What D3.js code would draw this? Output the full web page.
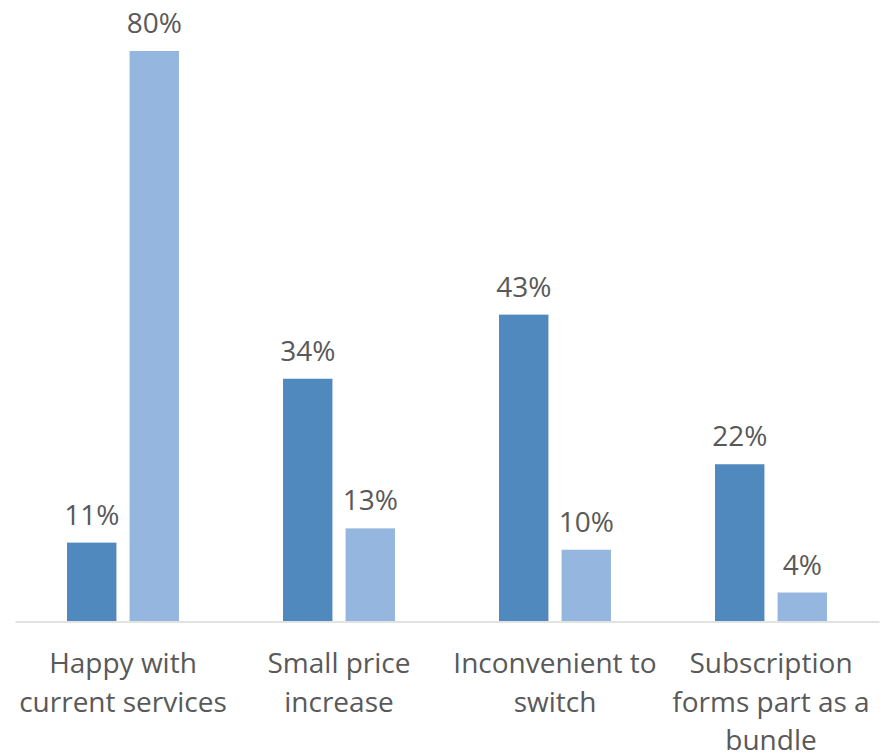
<!DOCTYPE html>
<html>
<head>
<meta charset="utf-8">
<script src="https://cdnjs.cloudflare.com/ajax/libs/d3/7.8.5/d3.min.js"></script>
<style>
  html, body { margin: 0; padding: 0; background: #fff; }
  svg { display: block; }
</style>
</head>
<body>
<svg id="chart" width="888" height="754"></svg>
<script>
// Reasons for staying with the current provider, two respondent groups
const categories = [
  ["Happy with", "current services"],
  ["Small price", "increase"],
  ["Inconvenient to", "switch"],
  ["Subscription", "forms part as a", "bundle"]
];
const seriesA = [11, 34, 43, 22];
const seriesB = [80, 13, 10, 4];
const seriesColors = ["#4F89BD", "#95B7DF"];

const svg = d3.select("#chart");
const plotLeft = 15, plotRight = 879, baseline = 621, plotTop = 51;
const fontFamily = "'Open Sans', 'Liberation Sans', sans-serif";
const fontSize = 28;
const textColor = "#595959";

const x0 = d3.scaleBand()
  .domain(d3.range(categories.length))
  .range([plotLeft, plotRight])
  .paddingInner(0)
  .paddingOuter(0);

// bar pair centred in each category band
const pairInset = 52;
const x1 = d3.scaleBand()
  .domain([0, 1])
  .range([pairInset, x0.bandwidth() - pairInset])
  .paddingInner(0.21)
  .paddingOuter(0);

const y = d3.scaleLinear().domain([0, 80]).range([baseline, plotTop]);

const rows = categories.map((c, i) => ({ i, values: [seriesA[i], seriesB[i]] }));

const groups = svg.selectAll("g.group")
  .data(rows)
  .join("g")
  .attr("class", "group")
  .attr("transform", d => `translate(${x0(d.i)},0)`);

groups.selectAll("rect")
  .data(d => d.values.map((v, s) => ({ v, s })))
  .join("rect")
  .attr("x", d => x1(d.s))
  .attr("y", d => y(d.v))
  .attr("width", x1.bandwidth())
  .attr("height", d => baseline - y(d.v))
  .attr("fill", d => seriesColors[d.s]);

// value labels
groups.selectAll("text.value")
  .data(d => d.values.map((v, s) => ({ v, s })))
  .join("text")
  .attr("class", "value")
  .attr("x", d => x1(d.s) + x1.bandwidth() / 2)
  .attr("y", d => y(d.v) - 18)
  .attr("text-anchor", "middle")
  .attr("font-family", fontFamily)
  .attr("font-size", fontSize)
  .attr("fill", textColor)
  .text(d => d.v + "%");

// baseline axis
const axis = d3.axisBottom(x0).tickSize(0).tickFormat("");
const axisG = svg.append("g")
  .attr("transform", `translate(0,${baseline + 0.5})`)
  .call(axis);
axisG.select(".domain").attr("stroke", "#D9D9D9").attr("stroke-width", 1.5);

// category labels
svg.selectAll("text.cat")
  .data(categories)
  .join("text")
  .attr("class", "cat")
  .attr("x", (d, i) => x0(i) + x0.bandwidth() / 2)
  .attr("y", 673)
  .attr("text-anchor", "middle")
  .attr("font-family", fontFamily)
  .attr("font-size", fontSize)
  .attr("fill", textColor)
  .selectAll("tspan")
  .data(d => d)
  .join("tspan")
  .attr("x", function() { return d3.select(this.parentNode).attr("x"); })
  .attr("dy", (d, j) => j === 0 ? 0 : 38.5)
  .text(d => d);
</script>
</body>
</html>
